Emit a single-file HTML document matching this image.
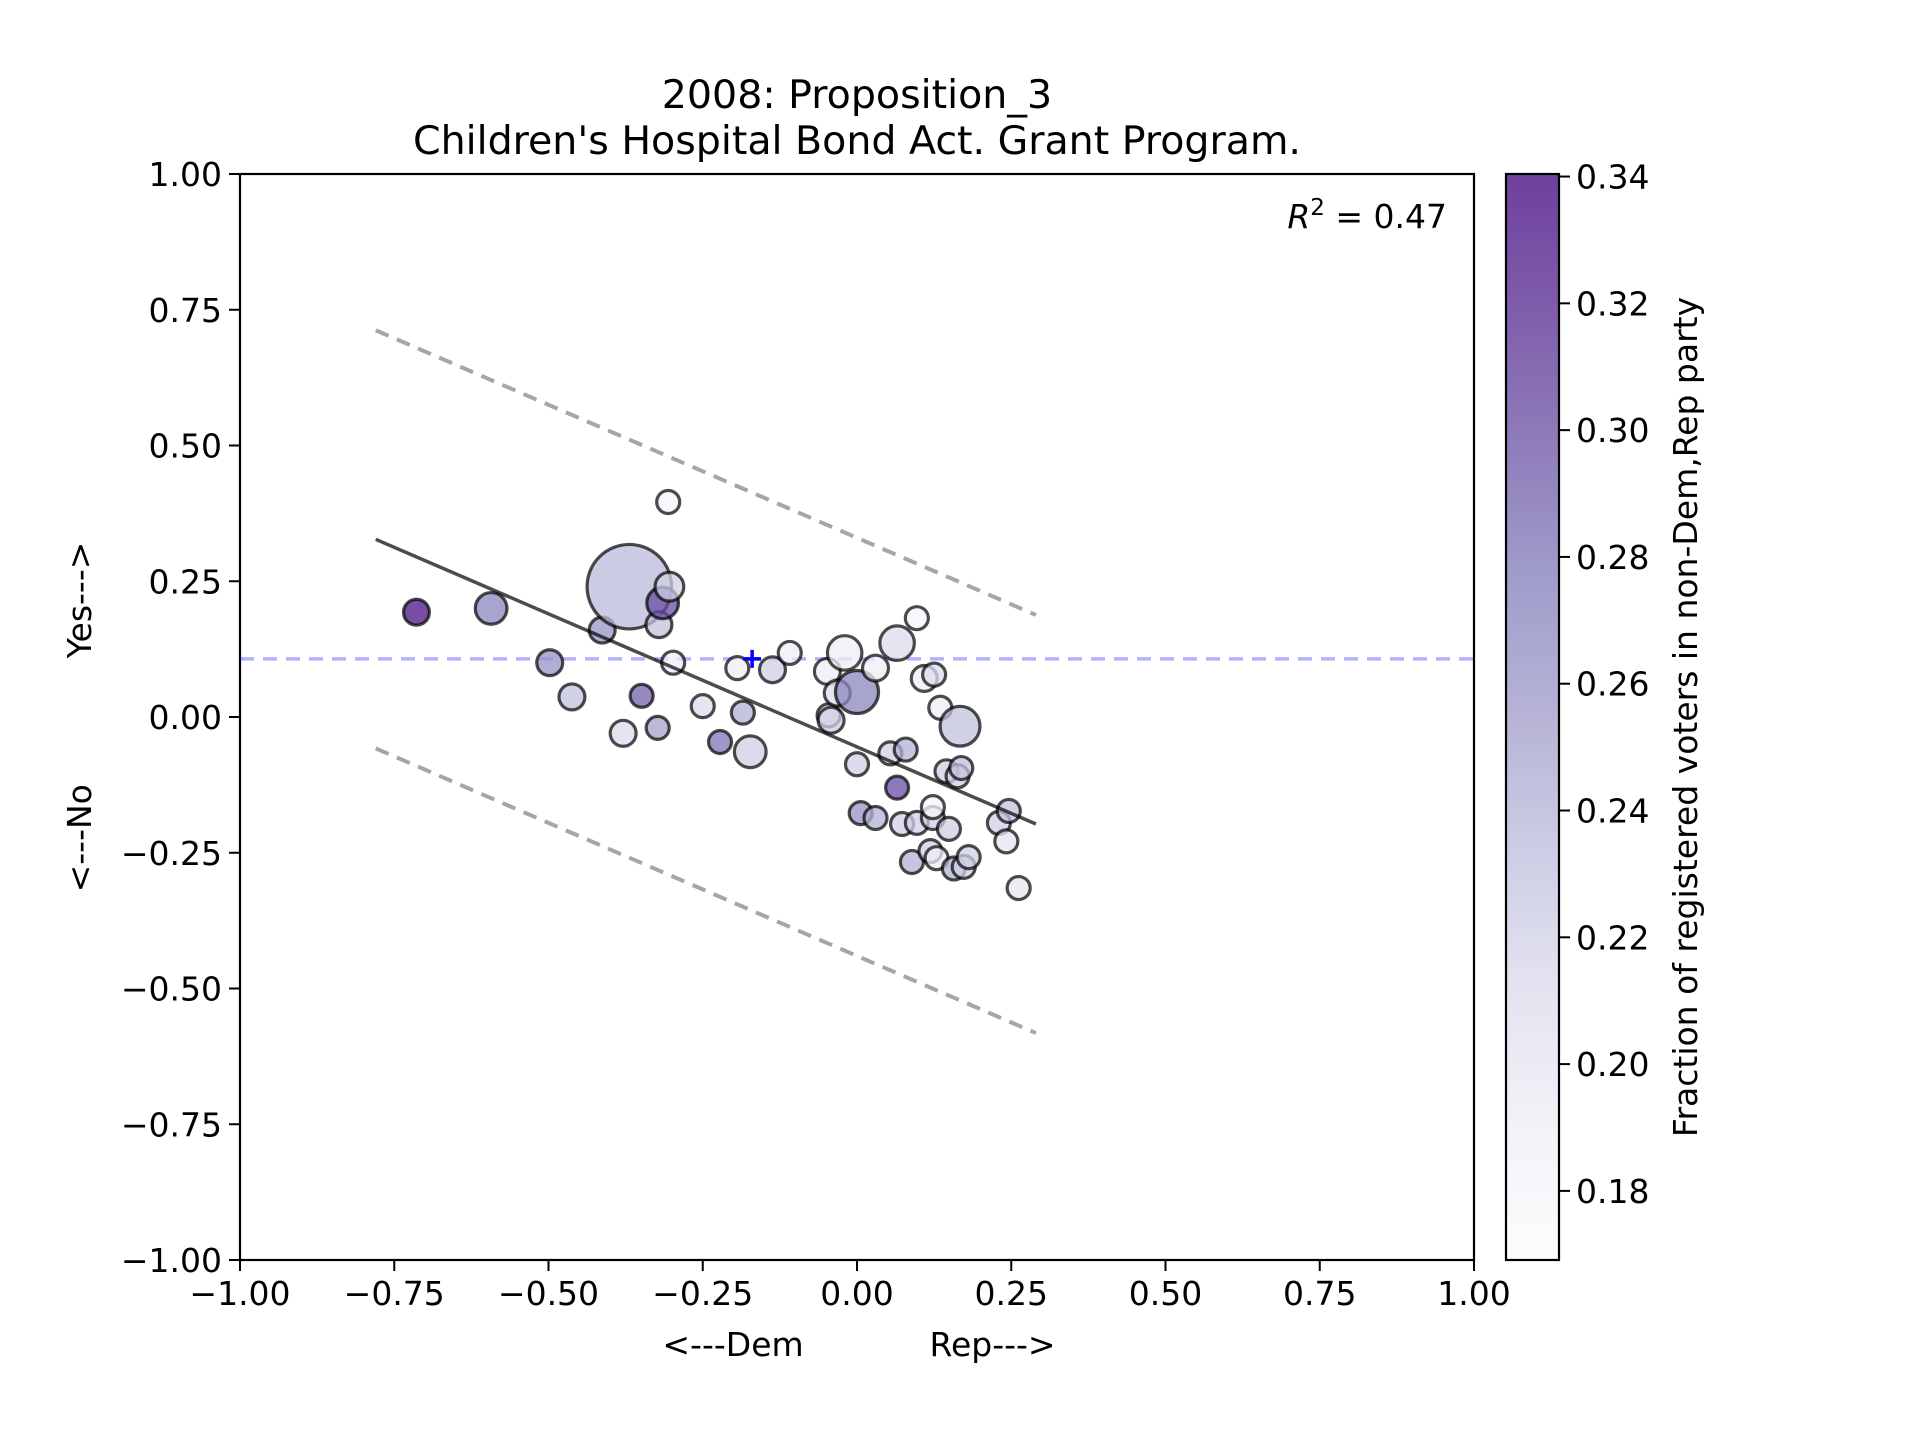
<!DOCTYPE html>
<html><head><meta charset="utf-8">
<style>
html,body{margin:0;padding:0;background:#fff;}
svg{display:block;font-family:"DejaVu Sans","Liberation Sans",sans-serif;}
</style></head>
<body>
<svg id="chart" width="1920" height="1440" viewBox="0 0 1920 1440" xmlns="http://www.w3.org/2000/svg">
<defs>
<linearGradient id="purples" x1="0" y1="1" x2="0" y2="0">
<stop offset="0" stop-color="#fcfbfd"/>
<stop offset="0.125" stop-color="#efedf5"/>
<stop offset="0.25" stop-color="#dadaeb"/>
<stop offset="0.375" stop-color="#bcbddc"/>
<stop offset="0.5" stop-color="#9e9ac8"/>
<stop offset="0.625" stop-color="#807dba"/>
<stop offset="0.75" stop-color="#6a51a3"/>
<stop offset="0.875" stop-color="#54278f"/>
<stop offset="1" stop-color="#3f007d"/>
</linearGradient>
</defs>
<g id="plot"></g>
</svg>
<script>
// data
const xs = [-0.714,-0.593,-0.498,-0.462,-0.413,-0.369,-0.379,-0.349,-0.323,-0.321,-0.315,-0.306,-0.304,-0.298,-0.25,-0.222,-0.194,-0.185,-0.173,-0.137,-0.109,-0.048,-0.046,-0.042,-0.032,-0.02,0.0,0.0,0.006,0.03,0.03,0.065,0.054,0.065,0.079,0.073,0.097,0.097,0.109,0.125,0.089,0.119,0.123,0.123,0.129,0.135,0.149,0.145,0.163,0.169,0.167,0.157,0.173,0.181,0.23,0.246,0.242,0.262];
const ys = [0.193,0.20,0.10,0.037,0.16,0.24,-0.03,0.039,-0.02,0.17,0.21,0.396,0.24,0.10,0.02,-0.046,0.09,0.008,-0.064,0.087,0.118,0.084,0.003,-0.006,0.044,0.118,0.046,-0.087,-0.177,0.09,-0.186,0.136,-0.067,-0.13,-0.06,-0.197,0.182,-0.195,0.071,0.078,-0.267,-0.247,-0.186,-0.166,-0.26,0.017,-0.206,-0.10,-0.109,-0.094,-0.017,-0.279,-0.276,-0.258,-0.195,-0.173,-0.229,-0.315];
const sizes = [1.27,1.9,1.27,1.27,1.27,13.5,1.27,1.0,1.0,1.27,1.9,1.0,1.56,1.0,1.0,1.0,1.0,1.0,1.9,1.27,1.0,1.27,1.0,1.27,1.27,2.25,3.5,1.0,1.0,1.27,1.0,2.25,1.0,1.0,1.0,1.0,1.0,1.0,1.27,1.0,1.0,1.0,1.0,1.0,1.0,1.0,1.0,1.0,1.0,1.0,3.0,1.0,1.0,1.0,1.0,1.0,1.0,1.0];
const shares = [0.33,0.27,0.26,0.23,0.26,0.235,0.21,0.29,0.25,0.23,0.30,0.18,0.22,0.19,0.21,0.28,0.19,0.24,0.22,0.22,0.19,0.19,0.21,0.22,0.21,0.19,0.27,0.22,0.26,0.19,0.24,0.21,0.22,0.30,0.24,0.22,0.18,0.22,0.19,0.21,0.24,0.22,0.22,0.18,0.19,0.19,0.22,0.22,0.22,0.23,0.23,0.24,0.22,0.22,0.22,0.23,0.20,0.20];
const xTicks = [-1,-0.75,-0.5,-0.25,0,0.25,0.5,0.75,1];
const xTickLabels = ["\u22121.00","\u22120.75","\u22120.50","\u22120.25","0.00","0.25","0.50","0.75","1.00"];
const yTicks = [1,0.75,0.5,0.25,0,-0.25,-0.5,-0.75,-1];
const yTickLabels = ["1.00","0.75","0.50","0.25","0.00","\u22120.25","\u22120.50","\u22120.75","\u22121.00"];
const cbTicks = [0.18,0.20,0.22,0.24,0.26,0.28,0.30,0.32,0.34];
const cbTickLabels = ["0.18","0.20","0.22","0.24","0.26","0.28","0.30","0.32","0.34"];
const fitX = [-0.78, 0.29];
const fitSlope = [-0.49];
const fitIntercept = [-0.055];
const bandOffset = [0.385];
const meanY = [0.107];
const meanX = [-0.17];
const cbRange = [0.1691, 0.3404];

const NS = "http://www.w3.org/2000/svg";
const L = 240, R = 1474, T = 174, B = 1260;
const sx = v => L + (v + 1) / 2 * (R - L);
const sy = v => T + (1 - v) / 2 * (B - T);
const CBL = 1506, CBR = 1559;
const cy = v => B - (v - cbRange[0]) / (cbRange[1] - cbRange[0]) * (B - T);
const g = document.getElementById('plot');
function el(tag, attrs, parent) {
  const e = document.createElementNS(NS, tag);
  for (const k in attrs) e.setAttribute(k, attrs[k]);
  (parent || g).appendChild(e);
  return e;
}
const stops = [[252,251,253],[239,237,245],[218,218,235],[188,189,220],[158,154,200],[128,125,186],[106,81,163],[84,39,143],[63,0,125]];
function cmap(v) {
  let t = (v - cbRange[0]) / (cbRange[1] - cbRange[0]);
  t = Math.max(0, Math.min(1, t)) * 8;
  const i = Math.min(7, Math.floor(t)), f = t - i;
  const c = stops[i].map((a, k) => Math.round(a + (stops[i + 1][k] - a) * f));
  return `rgb(${c[0]},${c[1]},${c[2]})`;
}

const frame = el('rect', {x: L, y: T, width: R - L, height: B - T, fill: 'none', stroke: '#000', 'stroke-width': 2.2});



xTicks.forEach((v, i) => {
  const t = el('line', {x1: sx(v), x2: sx(v), y1: B, y2: B + 11, stroke: '#000', 'stroke-width': 2});
  
  
  const lb = el('text', {x: sx(v), y: B + 45, 'font-size': 33, 'text-anchor': 'middle'});
  lb.textContent = xTickLabels[i];
  
  
});
yTicks.forEach((v, i) => {
  const t = el('line', {x1: L - 11, x2: L, y1: sy(v), y2: sy(v), stroke: '#000', 'stroke-width': 2});
  
  
  const lb = el('text', {x: L - 18, y: sy(v) + 12, 'font-size': 33, 'text-anchor': 'end'});
  lb.textContent = yTickLabels[i];
  
  
});

const ml = el('line', {x1: L, x2: R, y1: sy(meanY[0]), y2: sy(meanY[0]), stroke: '#0000ff', 'stroke-opacity': 0.3, 'stroke-width': 3.5, 'stroke-dasharray': '14 9'});



[1, -1].forEach(s => {
  const bl = el('line', {x1: sx(fitX[0]), x2: sx(fitX[1]),
    y1: sy(fitIntercept[0] + fitSlope[0] * fitX[0] + s * bandOffset[0]),
    y2: sy(fitIntercept[0] + fitSlope[0] * fitX[1] + s * bandOffset[0]),
    stroke: '#000', 'stroke-opacity': 0.35, 'stroke-width': 4, 'stroke-dasharray': '14 9'});
  
  
});

xs.forEach((x, i) => {
  const c = el('circle', {cx: sx(x), cy: sy(ys[i]), r: 11.5 * Math.sqrt(sizes[i]), fill: cmap(shares[i]), 'fill-opacity': 0.75, stroke: '#000', 'stroke-opacity': 0.7, 'stroke-width': 3.2});
  
  
});

const fl = el('line', {x1: sx(fitX[0]), x2: sx(fitX[1]), y1: sy(fitIntercept[0] + fitSlope[0] * fitX[0]), y2: sy(fitIntercept[0] + fitSlope[0] * fitX[1]), stroke: '#000', 'stroke-opacity': 0.7, 'stroke-width': 3.5});



const mx = sx(meanX[0]), my = sy(meanY[0]);
const pm = el('path', {d: `M${mx - 9},${my}H${mx + 9}M${mx},${my - 9}V${my + 9}`, stroke: '#0000ff', 'stroke-width': 3.5});



const cb = el('rect', {x: CBL, y: T, width: CBR - CBL, height: B - T, fill: 'url(#purples)', 'fill-opacity': 0.75, stroke: '#000', 'stroke-width': 2.2});


cbTicks.forEach((v, i) => {
  const t = el('line', {x1: CBR, x2: CBR + 11, y1: cy(v), y2: cy(v), stroke: '#000', 'stroke-width': 2});
  
  
  const lb = el('text', {x: CBR + 17, y: cy(v) + 12, 'font-size': 33});
  lb.textContent = cbTickLabels[i];
  
  
});
</script>
<svg style="position:absolute;left:0;top:0" width="1920" height="1440">
<g font-family="DejaVu Sans, Liberation Sans, sans-serif" font-size="33" fill="#000">
<text x="857" y="108" text-anchor="middle" font-size="39.5">2008: Proposition_3</text>
<text x="857" y="154" text-anchor="middle" font-size="39.5">Children's Hospital Bond Act. Grant Program.</text>
<text x="1447" y="228" text-anchor="end"><tspan font-style="italic">R</tspan><tspan font-size="23" dy="-13">2</tspan><tspan dy="13"> = 0.47</tspan></text>
<text x="859" y="1356" text-anchor="middle" xml:space="preserve">&lt;---Dem            Rep---&gt;</text>
<text transform="translate(91,717) rotate(-90)" text-anchor="middle" xml:space="preserve">&lt;---No            Yes---&gt;</text>
<text transform="translate(1697,717) rotate(-90)" text-anchor="middle">Fraction of registered voters in non-Dem,Rep party</text>
</g>
</svg>
</body></html>
